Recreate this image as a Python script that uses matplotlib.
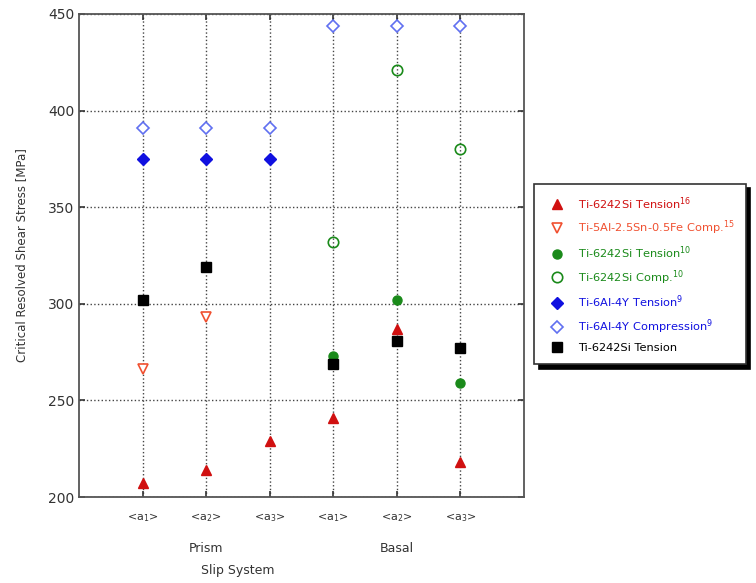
import matplotlib.pyplot as plt
import numpy as np

# slip systems (prism <a1>,<a2>,<a3>, basal <a1>,<a2>,<a3>)
x = [1, 2, 3, 4, 5, 6]
tick_labels = ['<a$_1$>', '<a$_2$>', '<a$_3$>', '<a$_1$>', '<a$_2$>', '<a$_3$>']

ti6242_ten16 = [207, 214, 229, 241, 287, 218]
ti5al_comp_x = [1, 2]
ti5al_comp = [266, 293]
ti6242_ten10_x = [4, 5, 6]
ti6242_ten10 = [273, 302, 259]
ti6242_comp10_x = [4, 5, 6]
ti6242_comp10 = [332, 421, 380]
ti6al_ten_x = [1, 2, 3]
ti6al_ten = [375, 375, 375]
ti6al_comp = [391, 391, 391, 444, 444, 444]
ti6242_ten_x = [1, 2, 4, 5, 6]
ti6242_ten = [302, 319, 269, 281, 277]

red = '#d01010'
orange = '#f05030'
green = '#1a8a1a'
blue = '#1010e0'
lblue = '#6070f0'

fig = plt.figure(figsize=(7.56, 5.83), dpi=100)
ax = fig.add_axes([0.1045, 0.1475, 0.5886, 0.8285])

ms = 6.5
ax.plot(x, ti6242_ten16, '^', color=red, ms=ms, ls='none',
        label='Ti-6242Si Tension$^{16}$', zorder=4)
ax.plot(ti5al_comp_x, ti5al_comp, 'v', mfc='white', mec=orange, mew=1.2, ms=ms, ls='none',
        label='Ti-5Al-2.5Sn-0.5Fe Comp.$^{15}$', zorder=4)
ax.plot(ti6242_ten10_x, ti6242_ten10, 'o', color=green, ms=ms, ls='none',
        label='Ti-6242Si Tension$^{10}$', zorder=4)
ax.plot(ti6242_comp10_x, ti6242_comp10, 'o', mfc='none', mec=green, mew=1.2, ms=ms + 1, ls='none',
        label='Ti-6242Si Comp.$^{10}$', zorder=4)
ax.plot(ti6al_ten_x, ti6al_ten, 'D', color=blue, ms=ms - 0.5, ls='none',
        label='Ti-6Al-4Y Tension$^{9}$', zorder=4)
ax.plot(x, ti6al_comp, 'D', mfc='white', mec=lblue, mew=1.2, ms=ms - 0.5, ls='none',
        label='Ti-6Al-4Y Compression$^{9}$', zorder=4)
ax.plot(ti6242_ten_x, ti6242_ten, 's', color='black', ms=ms + 1, ls='none',
        label='Ti-6242Si Tension', zorder=5)

ax.set_xlim(0, 7)
ax.set_ylim(200, 450)
ax.set_xticks(x)
ax.set_xticklabels(tick_labels, fontsize=8, color='#333333')
ax.set_yticks([200, 250, 300, 350, 400, 450])
ax.tick_params(axis='y', labelsize=10, colors='#333333')
ax.tick_params(direction='in', top=True, right=True, length=4, width=1.2, color='#333333')
ax.tick_params(axis='x', pad=10)
ax.grid(True, ls=':', color='#444444', lw=1.0)
for s in ax.spines.values():
    s.set_linewidth(1.3)
    s.set_color('#555555')

ax.set_ylabel('Critical Resolved Shear Stress [MPa]', fontsize=8.5, color='#333333', labelpad=14)
ax.text(2, 173.5, 'Prism', ha='center', va='center', fontsize=9, color='#333333')
ax.text(5, 173.5, 'Basal', ha='center', va='center', fontsize=9, color='#333333')
ax.text(2.5, 162.2, 'Slip System', ha='center', va='center', fontsize=9, color='#333333')

leg = fig.legend(loc='upper left', bbox_to_anchor=(0.707, 0.685), fontsize=8.2,
                 labelcolor=[red, orange, green, green, blue, blue, 'black'],
                 frameon=True, fancybox=False, edgecolor='#333333',
                 shadow={'color': 'black', 'alpha': 1, 'ox': 3, 'oy': -3},
                 borderpad=1.0, labelspacing=0.62, handlelength=2.0,
                 handletextpad=0.8, borderaxespad=0)
leg.get_frame().set_linewidth(1.2)

fig.savefig('out.png', dpi=100)
